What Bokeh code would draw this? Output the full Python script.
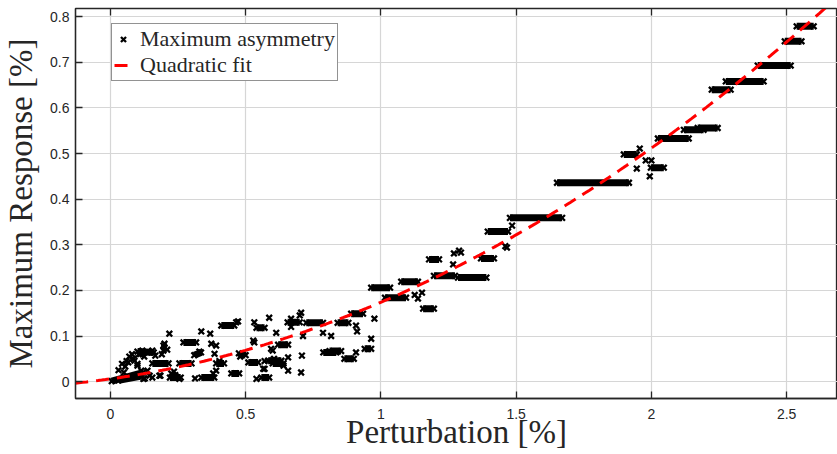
import numpy as np
from bokeh.plotting import figure
from bokeh.models import ColumnDataSource, FixedTicker, LinearAxis, Legend, LegendItem, Range1d
from bokeh.embed import file_html
from bokeh.resources import INLINE

# ---- data (perturbation %, maximum response %) ----
pert_pts = [0.043, 0.055, 0.066, 0.085, 0.100, 0.111, 0.118, 0.137, 0.155, 0.166,
            0.137, 0.122, 0.155, 0.185, 0.196, 0.196, 0.218, 0.089, 0.100, 0.114,
            0.127, 0.145, 0.181, 0.200, 0.200, 0.190, 0.210, 0.225, 0.240, 0.255,
            0.235, 0.313, 0.329, 0.336, 0.369, 0.373, 0.391, 0.385, 0.391, 0.380,
            0.403, 0.465, 0.480, 0.472, 0.532, 0.532, 0.528, 0.540, 0.570, 0.587,
            0.613, 0.594, 0.600, 0.657, 0.708, 0.657, 0.705, 0.705, 0.700, 0.668,
            0.668, 0.712, 0.786, 0.816, 0.976, 0.908, 0.912, 0.964, 0.908, 0.060,
            0.070, 0.080, 0.030, 0.050, 0.620, 0.640, 0.570, 0.605, 0.565, 0.105,
            0.125,
            1.957, 1.946, 1.994, 1.979, 2.000, 1.485, 1.466, 1.460, 1.289, 1.270,
            1.267, 1.152, 1.137, 1.125, 1.296]
resp_pts = [0.039, 0.033, 0.042, 0.050, 0.039, 0.061, 0.068, 0.064, 0.068, 0.057,
            0.024, 0.006, 0.009, 0.013, 0.068, 0.079, 0.105, 0.046, 0.035, 0.024,
            0.007, 0.013, 0.013, 0.083, 0.075, 0.060, 0.070, 0.018, 0.014, 0.006,
            0.022, 0.007, 0.066, 0.110, 0.105, 0.083, 0.079, 0.061, 0.024, 0.018,
            0.045, 0.130, 0.055, 0.132, 0.130, 0.086, 0.090, 0.006, 0.028, 0.140,
            0.107, 0.072, 0.068, 0.053, 0.057, 0.024, 0.020, 0.151, 0.145, 0.138,
            0.120, 0.100, 0.107, 0.100, 0.138, 0.123, 0.110, 0.094, 0.064, 0.045,
            0.055, 0.060, 0.025, 0.020, 0.045, 0.035, 0.045, 0.050, 0.028, 0.060,
            0.055,
            0.511, 0.467, 0.450, 0.485, 0.485, 0.342, 0.294, 0.297, 0.287, 0.281,
            0.257, 0.195, 0.182, 0.190, 0.283]

# dense runs of overlapping samples (start / end)
run_x0 = [0.005, 0.030, 0.100, 0.155, 0.220, 0.270, 0.255, 0.336, 0.310, 0.391,
          0.410, 0.447, 0.475, 0.510, 0.540, 0.558, 0.583, 0.600, 0.620, 0.655,
          0.724, 0.787, 0.810, 0.840, 0.865, 0.890, 0.940,
          0.964, 1.015, 1.075, 1.156, 1.178, 1.196, 1.285, 1.370, 1.395, 1.477,
          1.651, 1.898, 1.998, 2.024, 2.120, 2.171, 2.223, 2.275, 2.393, 2.493,
          2.537]
run_y0 = [0.001, 0.003, 0.066, 0.040, 0.009, 0.086, 0.040, 0.009, 0.058, 0.040,
          0.123, 0.018, 0.062, 0.042, 0.118, 0.009, 0.046, 0.040, 0.081, 0.130,
          0.129, 0.064, 0.067, 0.129, 0.050, 0.149, 0.072,
          0.206, 0.184, 0.219, 0.160, 0.268, 0.232, 0.228, 0.270, 0.329, 0.359,
          0.436, 0.498, 0.469, 0.533, 0.552, 0.556, 0.640, 0.658, 0.693, 0.746,
          0.779]
run_x1 = [0.120, 0.115, 0.160, 0.215, 0.260, 0.317, 0.300, 0.384, 0.335, 0.420,
          0.458, 0.476, 0.500, 0.546, 0.570, 0.587, 0.632, 0.640, 0.657, 0.700,
          0.786, 0.835, 0.853, 0.880, 0.900, 0.934, 0.964,
          1.034, 1.093, 1.137, 1.196, 1.215, 1.274, 1.390, 1.418, 1.470, 1.670,
          1.917, 1.946, 2.046, 2.138, 2.193, 2.245, 2.293, 2.415, 2.515, 2.555,
          2.600]
run_y1 = [0.020, 0.012, 0.064, 0.040, 0.009, 0.086, 0.040, 0.009, 0.064, 0.040,
          0.123, 0.018, 0.058, 0.042, 0.118, 0.009, 0.046, 0.040, 0.081, 0.130,
          0.129, 0.064, 0.067, 0.129, 0.050, 0.149, 0.072,
          0.206, 0.184, 0.219, 0.160, 0.268, 0.232, 0.228, 0.270, 0.329, 0.359,
          0.436, 0.498, 0.469, 0.533, 0.552, 0.556, 0.640, 0.658, 0.693, 0.746,
          0.779]

# quadratic fit y = a + b x + c x^2
fit_coef = [0.006, 0.083, 0.085]
fit_span = [-0.13, 2.65]

x_ticks = [0, 0.5, 1, 1.5, 2, 2.5]
y_ticks = [0, 0.1, 0.2, 0.3, 0.4, 0.5, 0.6, 0.7, 0.8]

TXT = "#262626"

p = figure(width=837, height=454, output_backend="svg", toolbar_location=None,
           x_range=Range1d(-0.129, 2.688), y_range=Range1d(-0.037, 0.818),
           min_border_left=74, min_border_right=0, min_border_top=8,
           min_border_bottom=56)
p.background_fill_color = "white"
p.outline_line_color = TXT
p.outline_line_width = 1.3

for ax, ticks in ((p.xaxis, x_ticks), (p.yaxis, y_ticks)):
    ax.ticker = FixedTicker(ticks=ticks)
    ax.major_tick_in = 7
    ax.major_tick_out = 0
    ax.minor_tick_line_color = None
    ax.axis_line_color = TXT
    ax.axis_line_width = 1.3
    ax.major_tick_line_color = TXT
    ax.major_tick_line_width = 1.3
    ax.major_label_text_font = "Liberation Sans"
    ax.major_label_text_font_size = "14px"
    ax.major_label_text_color = TXT
    ax.axis_label_text_font = "Liberation Serif"
    ax.axis_label_text_font_size = "33px"
    ax.axis_label_text_font_style = "normal"
    ax.axis_label_text_color = TXT

p.xaxis.major_label_overrides = {0: "0", 1: "1", 2: "2"}
p.yaxis.major_label_overrides = {0: "0"}
p.xaxis.axis_label = "Perturbation [%]"
p.yaxis.axis_label = "Maximum Response [%]"
p.xaxis.major_label_standoff = 10
p.yaxis.major_label_standoff = 6
p.xaxis.axis_label_standoff = -8
p.yaxis.axis_label_standoff = 8

top = LinearAxis(ticker=FixedTicker(ticks=x_ticks), major_tick_in=7, major_tick_out=0,
                 minor_tick_line_color=None, major_label_text_font_size="1px",
                 major_label_text_color=None, major_label_standoff=0,
                 axis_line_color=TXT, major_tick_line_color=TXT,
                 major_tick_line_width=1.3)
p.add_layout(top, "above")

p.grid.grid_line_color = "#d6d6d6"
p.grid.grid_line_width = 1.2
p.xgrid.ticker = FixedTicker(ticks=x_ticks)
p.ygrid.ticker = FixedTicker(ticks=y_ticks)

MS = 8
MW = 2.3
# runs
runs = ColumnDataSource(dict(x0=run_x0, y0=run_y0, x1=run_x1, y1=run_y1))
p.segment("x0", "y0", "x1", "y1", source=runs, line_color="black", line_width=7,
          line_cap="butt")
p.scatter("x0", "y0", source=runs, marker="x", size=MS, line_color="black", line_width=MW)
p.scatter("x1", "y1", source=runs, marker="x", size=MS, line_color="black", line_width=MW)

pts = ColumnDataSource(dict(x=pert_pts, y=resp_pts))
sc = p.scatter("x", "y", source=pts, marker="x", size=MS, line_color="black", line_width=MW)

fx = np.linspace(fit_span[0], fit_span[1], 200)
fy = fit_coef[0] + fit_coef[1] * fx + fit_coef[2] * fx ** 2
ln = p.line(fx, fy, line_color="#ff0000", line_width=3, line_dash="13 8")

legend = Legend(items=[LegendItem(label="Maximum asymmetry", renderers=[sc]),
                       LegendItem(label="Quadratic fit", renderers=[ln])],
                location=(36, 317))
legend.label_text_font = "Liberation Serif"
legend.label_text_font_size = "22px"
legend.label_text_color = TXT
legend.border_line_color = TXT
legend.border_line_width = 1.2
legend.background_fill_alpha = 1
legend.glyph_width = 18
legend.glyph_height = 20
legend.label_height = 20
legend.label_standoff = 8
legend.padding = 2
legend.spacing = 0
legend.margin = 0
p.add_layout(legend)

open("out.html", "w").write(file_html(p, INLINE))
